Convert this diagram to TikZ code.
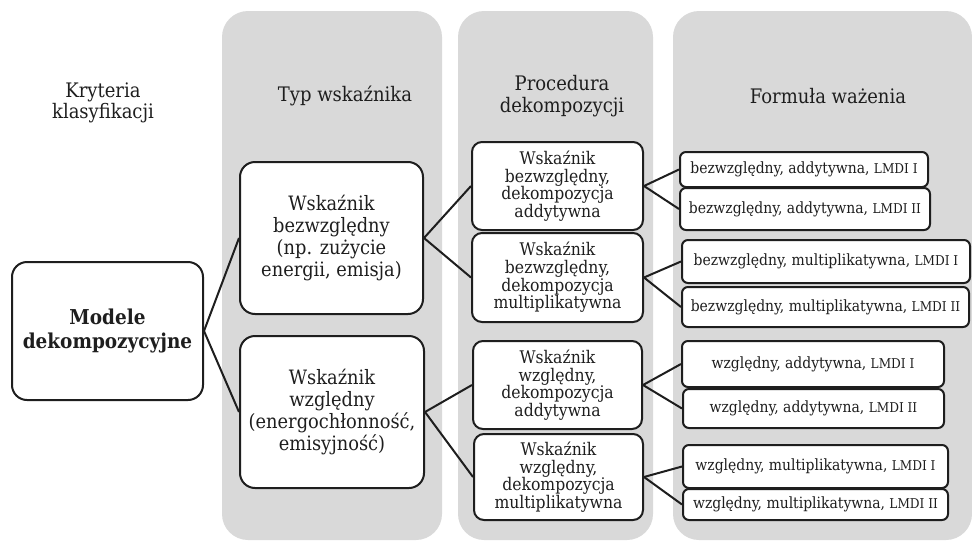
\documentclass[tikz,border=0pt]{standalone}
\usepackage{fontspec}
\setmainfont{DejaVu Serif Condensed}
\usepackage{xcolor}
\usepackage{tikz}
\usetikzlibrary{positioning}
\definecolor{colgray}{HTML}{D9D9D9}
\definecolor{ink}{HTML}{1E1E1E}
\newcommand{\lmdi}[1]{{\fontsize{13.5}{16}\selectfont LMDI~#1}}
\tikzset{
  column/.style={fill=colgray, rounded corners=26pt},
  head/.style={align=center, text=ink, font=\fontsize{20}{21.5}\selectfont},
  rootbox/.style={rectangle, draw=ink, line width=2pt, fill=white, rounded corners=15pt, align=center, text=ink, inner sep=0pt, font=\fontsize{20.5}{24}\selectfont\bfseries},
  typebox/.style={rectangle, draw=ink, line width=2pt, fill=white, rounded corners=15pt, align=center, text=ink, inner sep=0pt, font=\fontsize{19.8}{21.7}\selectfont},
  procbox/.style={rectangle, draw=ink, line width=2pt, fill=white, rounded corners=10pt, align=center, text=ink, inner sep=0pt, font=\fontsize{17.4}{17.6}\selectfont},
  formbox/.style={rectangle, draw=ink, line width=2pt, fill=white, rounded corners=6pt, align=center, text=ink, inner sep=0pt, font=\fontsize{15.5}{17}\selectfont},
  link/.style={draw=ink, line width=2pt},
}

\begin{document}
\begin{tikzpicture}[x=1pt, y=-1pt]
  \useasboundingbox (0,0) rectangle (972,541);
  % grey column panels
  \fill[column] (222,11) rectangle (442,540);
  \fill[column] (458,11) rectangle (653,540);
  \fill[column] (673,11) rectangle (972,540);

  % column headings
  \node[head] (hcrit) at (103,103) {Kryteria\\klasyfikacji};
  \node[head] (htyp) at (345,96) {Typ wskaźnika};
  \node[head] (hproc) at (562,96) {Procedura\\dekompozycji};
  \node[head] (hform) at (828,96) {Formuła ważenia};

  % root
  \node[rootbox, minimum width=191pt, minimum height=138pt] (root) at (107.5,331) {Modele\\dekompozycyjne};

  % indicator type
  \node[typebox, minimum width=183pt, minimum height=152pt] (abs) at (331.5,238) {Wskaźnik\\bezwzględny\\(np. zużycie\\energii, emisja)};
  \node[typebox, minimum width=184pt, minimum height=152pt] (rel) at (332,412) {Wskaźnik\\względny\\(energochłonność,\\emisyjność)};

  % decomposition procedure
  \node[procbox, minimum width=171pt, minimum height=88pt] (absadd) at (557.5,186) {Wskaźnik\\bezwzględny,\\dekompozycja\\addytywna};
  \node[procbox, minimum width=171pt, minimum height=89pt] (absmul) at (557.5,277.5) {Wskaźnik\\bezwzględny,\\dekompozycja\\multiplikatywna};
  \node[procbox, minimum width=169pt, minimum height=88pt] (reladd) at (557.5,385) {Wskaźnik\\względny,\\dekompozycja\\addytywna};
  \node[procbox, minimum width=169pt, minimum height=86pt] (relmul) at (558.5,477) {Wskaźnik\\względny,\\dekompozycja\\multiplikatywna};

  % weighting formula
  \node[formbox, minimum width=248pt, minimum height=35pt] (f1) at (804,169.5) {bezwzględny, addytywna, \lmdi{I}};
  \node[formbox, minimum width=250pt, minimum height=42pt] (f2) at (805,209) {bezwzględny, addytywna, \lmdi{II}};
  \node[formbox, minimum width=288pt, minimum height=43pt] (f3) at (826,261.5) {bezwzględny, multiplikatywna, \lmdi{I}};
  \node[formbox, minimum width=287pt, minimum height=40pt] (f4) at (825.5,307) {bezwzględny, multiplikatywna, \lmdi{II}};
  \node[formbox, minimum width=262pt, minimum height=46pt] (f5) at (813,364) {względny, addytywna, \lmdi{I}};
  \node[formbox, minimum width=261pt, minimum height=39pt] (f6) at (813.5,408.5) {względny, addytywna, \lmdi{II}};
  \node[formbox, minimum width=265pt, minimum height=43pt] (f7) at (815.5,466.5) {względny, multiplikatywna, \lmdi{I}};
  \node[formbox, minimum width=265pt, minimum height=31pt] (f8) at (815.5,504.5) {względny, multiplikatywna, \lmdi{II}};

  % connectors
  \draw[link] (root.east) -- (abs.west);
  \draw[link] (root.east) -- (rel.west);
  \draw[link] (abs.east) -- (absadd.west);
  \draw[link] (abs.east) -- (absmul.west);
  \draw[link] (rel.east) -- (reladd.west);
  \draw[link] (rel.east) -- (relmul.west);
  \draw[link] (absadd.east) -- (f1.west);
  \draw[link] (absadd.east) -- (f2.west);
  \draw[link] (absmul.east) -- (f3.west);
  \draw[link] (absmul.east) -- (f4.west);
  \draw[link] (reladd.east) -- (f5.west);
  \draw[link] (reladd.east) -- (f6.west);
  \draw[link] (relmul.east) -- (f7.west);
  \draw[link] (relmul.east) -- (f8.west);
\end{tikzpicture}
\end{document}
